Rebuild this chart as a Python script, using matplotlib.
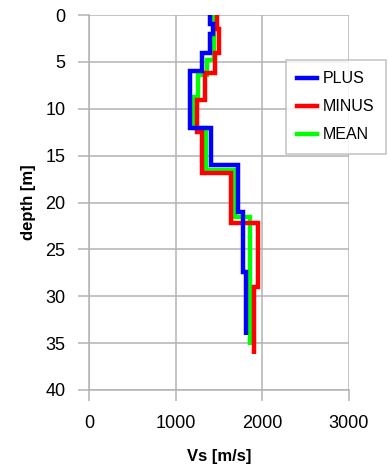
import numpy as np
import matplotlib
matplotlib.use('Agg')
import matplotlib.pyplot as plt

plt.rcParams['font.family'] = ['Liberation Sans', 'DejaVu Sans']

# layer tops [m] + bottom, and Vs [m/s] per layer
plus_depth = [0, 1.0, 2.0, 4.0, 6.0, 12.0, 16.0, 21.0, 27.4, 34.1]
plus_vs = [1400, 1430, 1400, 1300, 1170, 1410, 1725, 1780, 1810]

minus_depth = [0, 1.5, 4.1, 6.2, 9.1, 12.5, 16.9, 22.2, 29.0, 36.2]
minus_vs = [1475, 1500, 1455, 1338, 1250, 1305, 1640, 1955, 1905]

mean_depth = [0, 4.8, 6.4, 8.7, 12.1, 16.5, 21.5, 35.2]
mean_vs = [1440, 1360, 1260, 1215, 1355, 1685, 1858]

fig = plt.figure(figsize=(3.88, 4.66), dpi=100)
ax = fig.add_axes([89/388, 1-390/466, 260/388, 375/466])

grid_c = '#b3b3b3'
ax.stairs(mean_vs, mean_depth, orientation='horizontal', baseline=None,
          color='#00ff00', lw=3.2, label='MEAN', zorder=3)
ax.stairs(minus_vs, minus_depth, orientation='horizontal', baseline=None,
          color='#ff0000', lw=3.2, label='MINUS', zorder=4)
ax.stairs(plus_vs, plus_depth, orientation='horizontal', baseline=None,
          color='#0000ff', lw=3.2, label='PLUS', zorder=5)

ax.set_xlim(0, 3000)
ax.set_ylim(40, 0)
ax.set_xticks(np.arange(0, 3001, 1000))
ax.set_yticks(np.arange(0, 41, 5))
ax.grid(True, color=grid_c, lw=1.1)
ax.set_axisbelow(True)
for s in ['top', 'right']:
    ax.spines[s].set_visible(False)
for s in ['left', 'bottom']:
    ax.spines[s].set_color(grid_c)
    ax.spines[s].set_linewidth(1.1)
ax.tick_params(colors=grid_c, labelcolor='black', length=8, width=1.1,
               labelsize=13)
ax.tick_params(axis='y', pad=9)
ax.tick_params(axis='x', pad=10)

ax.set_xlabel('Vs [m/s]', fontsize=12, fontweight='bold', labelpad=12)
ax.set_ylabel('depth [m]', fontsize=12, fontweight='bold', labelpad=7)

h, l = ax.get_legend_handles_labels()
order = [2, 1, 0]
leg = fig.legend([h[i] for i in order], [l[i] for i in order],
                 loc='upper left', bbox_to_anchor=(286/388, 1-60/466),
                 fontsize=11.5, frameon=True, fancybox=False, handlelength=1.25,
                 handletextpad=0.35, labelspacing=0.82, borderpad=0.7,
                 borderaxespad=0)
leg.get_frame().set_edgecolor(grid_c)
leg.get_frame().set_linewidth(1.1)

fig.savefig('out.png', dpi=100)
